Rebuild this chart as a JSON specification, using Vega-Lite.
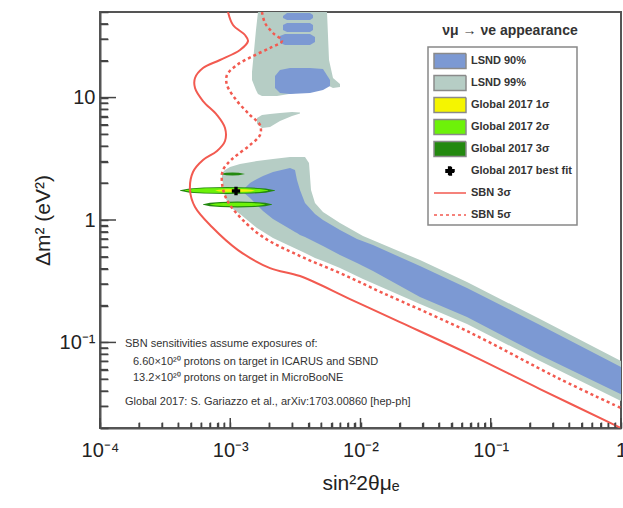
{
  "$schema": "https://vega.github.io/schema/vega-lite/v6.json",
  "width": 521,
  "height": 416,
  "autosize": "none",
  "padding": {"left": 100, "top": 12, "right": 2, "bottom": 80},
  "background": "white",
  "datasets": {
    "regions": [
      {"s": "g_main", "x": 0.0008643, "y": 2.419, "y2": 2.202},
      {"s": "g_main", "x": 0.0009114, "y": 2.56, "y2": 1.54},
      {"s": "g_main", "x": 0.0009956, "y": 2.708, "y2": 1.276},
      {"s": "g_main", "x": 0.001188, "y": 2.866, "y2": 1.118},
      {"s": "g_main", "x": 0.001605, "y": 3.031, "y2": 0.8594},
      {"s": "g_main", "x": 0.002129, "y": 3.149, "y2": 0.712},
      {"s": "g_main", "x": 0.002876, "y": 3.268, "y2": 0.6126},
      {"s": "g_main", "x": 0.003749, "y": 3.268, "y2": 0.537},
      {"s": "g_main", "x": 0.004024, "y": 2.92, "y2": 0.5172},
      {"s": "g_main", "x": 0.004169, "y": 1.757, "y2": 0.5075},
      {"s": "g_main", "x": 0.004474, "y": 1.375, "y2": 0.4887},
      {"s": "g_main", "x": 0.005153, "y": 1.161, "y2": 0.4621},
      {"s": "g_main", "x": 0.00696, "y": 0.944, "y2": 0.405},
      {"s": "g_main", "x": 0.010451, "y": 0.7393, "y2": 0.3293},
      {"s": "g_main", "x": 0.02862, "y": 0.4708, "y2": 0.2057},
      {"s": "g_main", "x": 0.06571, "y": 0.3112, "y2": 0.1412},
      {"s": "g_main", "x": 0.2388, "y": 0.1551, "y2": 0.0704},
      {"s": "g_main", "x": 1.0, "y": 0.0704, "y2": 0.0332},
      {"s": "g_up", "x": 0.001469, "y": 16.18, "y2": 13.92},
      {"s": "g_up", "x": 0.001576, "y": 35.64, "y2": 11.53},
      {"s": "g_up", "x": 0.001633, "y": 50, "y2": 10.69},
      {"s": "g_up", "x": 0.001753, "y": 50, "y2": 10.29},
      {"s": "g_up", "x": 0.0022857, "y": 50, "y2": 10.29},
      {"s": "g_up", "x": 0.003884, "y": 50, "y2": 11.31},
      {"s": "g_up", "x": 0.005153, "y": 50, "y2": 11.97},
      {"s": "g_up", "x": 0.005532, "y": 50, "y2": 12.43},
      {"s": "g_up", "x": 0.005731, "y": 20.27, "y2": 12.43},
      {"s": "g_up", "x": 0.00615, "y": 14.44, "y2": 11.97},
      {"s": "g_up", "x": 0.00696, "y": 12.91, "y2": 12.2},
      {"s": "g_comet", "x": 0.001605, "y": 6.808, "y2": 6.081},
      {"s": "g_comet", "x": 0.001753, "y": 7.203, "y2": 5.641},
      {"s": "g_comet", "x": 0.00202, "y": 7.339, "y2": 5.747},
      {"s": "g_comet", "x": 0.002409, "y": 7.479, "y2": 6.434},
      {"s": "g_comet", "x": 0.002979, "y": 7.621, "y2": 7.069},
      {"s": "g_comet", "x": 0.003431, "y": 7.549, "y2": 7.409},
      {"s": "b_main", "x": 0.0012526, "y": 1.757, "y2": 1.692},
      {"s": "b_main", "x": 0.001418, "y": 2.004, "y2": 1.511},
      {"s": "b_main", "x": 0.001605, "y": 2.161, "y2": 1.325},
      {"s": "b_main", "x": 0.001784, "y": 2.287, "y2": 1.183},
      {"s": "b_main", "x": 0.002129, "y": 2.465, "y2": 1.018},
      {"s": "b_main", "x": 0.002876, "y": 2.658, "y2": 0.8435},
      {"s": "b_main", "x": 0.003141, "y": 2.56, "y2": 0.797},
      {"s": "b_main", "x": 0.003254, "y": 2.121, "y2": 0.782},
      {"s": "b_main", "x": 0.003431, "y": 1.757, "y2": 0.7534},
      {"s": "b_main", "x": 0.003749, "y": 1.375, "y2": 0.726},
      {"s": "b_main", "x": 0.004474, "y": 1.118, "y2": 0.6604},
      {"s": "b_main", "x": 0.005153, "y": 0.999, "y2": 0.6126},
      {"s": "b_main", "x": 0.00696, "y": 0.8276, "y2": 0.5172},
      {"s": "b_main", "x": 0.009401, "y": 0.6988, "y2": 0.445},
      {"s": "b_main", "x": 0.012471, "y": 0.6241, "y2": 0.3827},
      {"s": "b_main", "x": 0.02862, "y": 0.4205, "y2": 0.2347},
      {"s": "b_main", "x": 0.06571, "y": 0.278, "y2": 0.1611},
      {"s": "b_main", "x": 0.2388, "y": 0.1386, "y2": 0.0788},
      {"s": "b_main", "x": 1.0, "y": 0.0629, "y2": 0.0378},
      {"s": "b_up1", "x": 0.002541, "y": 46.38, "y2": 44.67},
      {"s": "b_up1", "x": 0.002727, "y": 49.07, "y2": 43.02},
      {"s": "b_up1", "x": 0.004096, "y": 49.07, "y2": 43.02},
      {"s": "b_up1", "x": 0.004319, "y": 47.27, "y2": 44.67},
      {"s": "b_up2a", "x": 0.002541, "y": 39.16, "y2": 35.64},
      {"s": "b_up2a", "x": 0.002727, "y": 40.65, "y2": 34.33},
      {"s": "b_up2a", "x": 0.004096, "y": 40.65, "y2": 34.33},
      {"s": "b_up2a", "x": 0.004319, "y": 39.16, "y2": 35.64},
      {"s": "b_up2b", "x": 0.002409, "y": 31.84, "y2": 27.91},
      {"s": "b_up2b", "x": 0.002633, "y": 33.06, "y2": 26.88},
      {"s": "b_up2b", "x": 0.004096, "y": 33.06, "y2": 26.88},
      {"s": "b_up2b", "x": 0.004474, "y": 31.25, "y2": 28.44},
      {"s": "b_up3", "x": 0.002206, "y": 15.01, "y2": 11.97},
      {"s": "b_up3", "x": 0.002409, "y": 16.8, "y2": 10.9},
      {"s": "b_up3", "x": 0.002876, "y": 17.43, "y2": 10.69},
      {"s": "b_up3", "x": 0.004096, "y": 17.43, "y2": 10.9},
      {"s": "b_up3", "x": 0.005153, "y": 17.11, "y2": 11.53},
      {"s": "b_up3", "x": 0.005834, "y": 13.92, "y2": 12.43},
      {"s": "e3_mid", "x": 0.0004112, "y": 1.751, "y2": 1.731},
      {"s": "e3_mid", "x": 0.0004866, "y": 1.811, "y2": 1.673},
      {"s": "e3_mid", "x": 0.0006259, "y": 1.843, "y2": 1.644},
      {"s": "e3_mid", "x": 0.0009526, "y": 1.859, "y2": 1.63},
      {"s": "e3_mid", "x": 0.00145, "y": 1.843, "y2": 1.644},
      {"s": "e3_mid", "x": 0.001866, "y": 1.811, "y2": 1.673},
      {"s": "e3_mid", "x": 0.002206, "y": 1.751, "y2": 1.731},
      {"s": "e3_low", "x": 0.0006177, "y": 1.342, "y2": 1.332},
      {"s": "e3_low", "x": 0.0006979, "y": 1.384, "y2": 1.293},
      {"s": "e3_low", "x": 0.0008381, "y": 1.405, "y2": 1.274},
      {"s": "e3_low", "x": 0.001137, "y": 1.416, "y2": 1.264},
      {"s": "e3_low", "x": 0.001542, "y": 1.405, "y2": 1.274},
      {"s": "e3_low", "x": 0.001852, "y": 1.384, "y2": 1.293},
      {"s": "e3_low", "x": 0.002092, "y": 1.342, "y2": 1.332},
      {"s": "e3_up", "x": 0.000834, "y": 2.379, "y2": 2.37},
      {"s": "e3_up", "x": 0.0009318, "y": 2.433, "y2": 2.317},
      {"s": "e3_up", "x": 0.001041, "y": 2.442, "y2": 2.308},
      {"s": "e3_up", "x": 0.0011623, "y": 2.433, "y2": 2.317},
      {"s": "e3_up", "x": 0.001298, "y": 2.379, "y2": 2.37},
      {"s": "e2_mid", "x": 0.0004495, "y": 1.748, "y2": 1.734},
      {"s": "e2_mid", "x": 0.0005204, "y": 1.79, "y2": 1.692},
      {"s": "e2_mid", "x": 0.0006484, "y": 1.813, "y2": 1.671},
      {"s": "e2_mid", "x": 0.0009359, "y": 1.824, "y2": 1.661},
      {"s": "e2_mid", "x": 0.00135, "y": 1.813, "y2": 1.671},
      {"s": "e2_mid", "x": 0.001683, "y": 1.79, "y2": 1.692},
      {"s": "e2_mid", "x": 0.001949, "y": 1.748, "y2": 1.734},
      {"s": "e2_low", "x": 0.0006991, "y": 1.34, "y2": 1.334},
      {"s": "e2_low", "x": 0.0007705, "y": 1.365, "y2": 1.311},
      {"s": "e2_low", "x": 0.0008915, "y": 1.377, "y2": 1.299},
      {"s": "e2_low", "x": 0.001137, "y": 1.384, "y2": 1.293},
      {"s": "e2_low", "x": 0.00145, "y": 1.377, "y2": 1.299},
      {"s": "e2_low", "x": 0.001677, "y": 1.365, "y2": 1.311},
      {"s": "e2_low", "x": 0.001849, "y": 1.34, "y2": 1.334},
      {"s": "e1_mid", "x": 0.0007637, "y": 1.744, "y2": 1.738},
      {"s": "e1_mid", "x": 0.0008198, "y": 1.77, "y2": 1.711},
      {"s": "e1_mid", "x": 0.0009114, "y": 1.784, "y2": 1.698},
      {"s": "e1_mid", "x": 0.001088, "y": 1.79, "y2": 1.692},
      {"s": "e1_mid", "x": 0.001298, "y": 1.784, "y2": 1.698},
      {"s": "e1_mid", "x": 0.0014435, "y": 1.77, "y2": 1.711},
      {"s": "e1_mid", "x": 0.001549, "y": 1.744, "y2": 1.738}
    ],
    "curves": [
      {"c": "sbn3", "i": 0, "x": 0.000961, "y": 50},
      {"c": "sbn3", "i": 1, "x": 0.00105, "y": 39.16},
      {"c": "sbn3", "i": 2, "x": 0.001298, "y": 32.44},
      {"c": "sbn3", "i": 3, "x": 0.001369, "y": 28.98},
      {"c": "sbn3", "i": 4, "x": 0.001188, "y": 24.46},
      {"c": "sbn3", "i": 5, "x": 0.000834, "y": 20.27},
      {"c": "sbn3", "i": 6, "x": 0.0006177, "y": 17.43},
      {"c": "sbn3", "i": 7, "x": 0.0005364, "y": 14.44},
      {"c": "sbn3", "i": 8, "x": 0.0005364, "y": 11.97},
      {"c": "sbn3", "i": 9, "x": 0.0006177, "y": 9.374},
      {"c": "sbn3", "i": 10, "x": 0.0007912, "y": 7.203},
      {"c": "sbn3", "i": 11, "x": 0.0009114, "y": 5.641},
      {"c": "sbn3", "i": 12, "x": 0.0009114, "y": 4.417},
      {"c": "sbn3", "i": 13, "x": 0.0007912, "y": 3.66},
      {"c": "sbn3", "i": 14, "x": 0.0006177, "y": 3.09},
      {"c": "sbn3", "i": 15, "x": 0.0005176, "y": 2.465},
      {"c": "sbn3", "i": 16, "x": 0.0004909, "y": 1.757},
      {"c": "sbn3", "i": 17, "x": 0.0005364, "y": 1.276},
      {"c": "sbn3", "i": 18, "x": 0.0007242, "y": 0.876},
      {"c": "sbn3", "i": 19, "x": 0.001147, "y": 0.568},
      {"c": "sbn3", "i": 20, "x": 0.00202, "y": 0.405},
      {"c": "sbn3", "i": 21, "x": 0.003431, "y": 0.3484},
      {"c": "sbn3", "i": 22, "x": 0.008305, "y": 0.226},
      {"c": "sbn3", "i": 23, "x": 0.0201, "y": 0.1466},
      {"c": "sbn3", "i": 24, "x": 0.0657, "y": 0.0818},
      {"c": "sbn3", "i": 25, "x": 0.2388, "y": 0.0416},
      {"c": "sbn3", "i": 26, "x": 1.0, "y": 0.02},
      {"c": "sbn5", "i": 0, "x": 0.001753, "y": 50},
      {"c": "sbn5", "i": 1, "x": 0.001849, "y": 40.65},
      {"c": "sbn5", "i": 2, "x": 0.002129, "y": 33.69},
      {"c": "sbn5", "i": 3, "x": 0.002497, "y": 28.98},
      {"c": "sbn5", "i": 4, "x": 0.00202, "y": 25.4},
      {"c": "sbn5", "i": 5, "x": 0.001495, "y": 21.85},
      {"c": "sbn5", "i": 6, "x": 0.001127, "y": 18.45},
      {"c": "sbn5", "i": 7, "x": 0.000944, "y": 15.29},
      {"c": "sbn5", "i": 8, "x": 0.000944, "y": 12.66},
      {"c": "sbn5", "i": 9, "x": 0.001127, "y": 9.374},
      {"c": "sbn5", "i": 10, "x": 0.001418, "y": 7.203},
      {"c": "sbn5", "i": 11, "x": 0.001692, "y": 5.968},
      {"c": "sbn5", "i": 12, "x": 0.001692, "y": 4.944},
      {"c": "sbn5", "i": 13, "x": 0.001418, "y": 4.097},
      {"c": "sbn5", "i": 14, "x": 0.001127, "y": 3.394},
      {"c": "sbn5", "i": 15, "x": 0.0009956, "y": 3.031},
      {"c": "sbn5", "i": 16, "x": 0.0008797, "y": 2.56},
      {"c": "sbn5", "i": 17, "x": 0.0008643, "y": 2.004},
      {"c": "sbn5", "i": 18, "x": 0.000944, "y": 1.456},
      {"c": "sbn5", "i": 19, "x": 0.001188, "y": 1.057},
      {"c": "sbn5", "i": 20, "x": 0.001784, "y": 0.726},
      {"c": "sbn5", "i": 21, "x": 0.003431, "y": 0.5075},
      {"c": "sbn5", "i": 22, "x": 0.00696, "y": 0.3686},
      {"c": "sbn5", "i": 23, "x": 0.01488, "y": 0.2531},
      {"c": "sbn5", "i": 24, "x": 0.06571, "y": 0.1238},
      {"c": "sbn5", "i": 25, "x": 0.3401, "y": 0.05019},
      {"c": "sbn5", "i": 26, "x": 1.0, "y": 0.02909}
    ],
    "xticks": [
      {"x": 0.0001, "y": 0.02, "major": true},
      {"x": 0.0002, "y": 0.02, "major": false},
      {"x": 0.0003, "y": 0.02, "major": false},
      {"x": 0.0004, "y": 0.02, "major": false},
      {"x": 0.0005, "y": 0.02, "major": false},
      {"x": 0.0006, "y": 0.02, "major": false},
      {"x": 0.0007, "y": 0.02, "major": false},
      {"x": 0.0008, "y": 0.02, "major": false},
      {"x": 0.0009, "y": 0.02, "major": false},
      {"x": 0.001, "y": 0.02, "major": true},
      {"x": 0.002, "y": 0.02, "major": false},
      {"x": 0.003, "y": 0.02, "major": false},
      {"x": 0.004, "y": 0.02, "major": false},
      {"x": 0.005, "y": 0.02, "major": false},
      {"x": 0.006, "y": 0.02, "major": false},
      {"x": 0.007, "y": 0.02, "major": false},
      {"x": 0.008, "y": 0.02, "major": false},
      {"x": 0.009, "y": 0.02, "major": false},
      {"x": 0.01, "y": 0.02, "major": true},
      {"x": 0.02, "y": 0.02, "major": false},
      {"x": 0.03, "y": 0.02, "major": false},
      {"x": 0.04, "y": 0.02, "major": false},
      {"x": 0.05, "y": 0.02, "major": false},
      {"x": 0.06, "y": 0.02, "major": false},
      {"x": 0.07, "y": 0.02, "major": false},
      {"x": 0.08, "y": 0.02, "major": false},
      {"x": 0.09, "y": 0.02, "major": false},
      {"x": 0.1, "y": 0.02, "major": true},
      {"x": 0.2, "y": 0.02, "major": false},
      {"x": 0.3, "y": 0.02, "major": false},
      {"x": 0.4, "y": 0.02, "major": false},
      {"x": 0.5, "y": 0.02, "major": false},
      {"x": 0.6, "y": 0.02, "major": false},
      {"x": 0.7, "y": 0.02, "major": false},
      {"x": 0.8, "y": 0.02, "major": false},
      {"x": 0.9, "y": 0.02, "major": false},
      {"x": 1, "y": 0.02, "major": true}
    ],
    "yticks": [
      {"x": 0.0001, "y": 0.03, "major": false},
      {"x": 0.0001, "y": 0.04, "major": false},
      {"x": 0.0001, "y": 0.05, "major": false},
      {"x": 0.0001, "y": 0.06, "major": false},
      {"x": 0.0001, "y": 0.07, "major": false},
      {"x": 0.0001, "y": 0.08, "major": false},
      {"x": 0.0001, "y": 0.09, "major": false},
      {"x": 0.0001, "y": 0.1, "major": true},
      {"x": 0.0001, "y": 0.2, "major": false},
      {"x": 0.0001, "y": 0.3, "major": false},
      {"x": 0.0001, "y": 0.4, "major": false},
      {"x": 0.0001, "y": 0.5, "major": false},
      {"x": 0.0001, "y": 0.6, "major": false},
      {"x": 0.0001, "y": 0.7, "major": false},
      {"x": 0.0001, "y": 0.8, "major": false},
      {"x": 0.0001, "y": 0.9, "major": false},
      {"x": 0.0001, "y": 1, "major": true},
      {"x": 0.0001, "y": 2, "major": false},
      {"x": 0.0001, "y": 3, "major": false},
      {"x": 0.0001, "y": 4, "major": false},
      {"x": 0.0001, "y": 5, "major": false},
      {"x": 0.0001, "y": 6, "major": false},
      {"x": 0.0001, "y": 7, "major": false},
      {"x": 0.0001, "y": 8, "major": false},
      {"x": 0.0001, "y": 9, "major": false},
      {"x": 0.0001, "y": 10, "major": true},
      {"x": 0.0001, "y": 20, "major": false},
      {"x": 0.0001, "y": 30, "major": false},
      {"x": 0.0001, "y": 40, "major": false}
    ],
    "notes": [
      {"k": "note", "t": "SBN sensitivities assume exposures of:", "x": 0.0001556, "y": 0.097},
      {"k": "note", "t": "6.60×10²⁰ protons on target in ICARUS and SBND", "x": 0.0001792, "y": 0.0691},
      {"k": "note", "t": "13.2×10²⁰ protons on target in MicroBooNE", "x": 0.0001792, "y": 0.0511},
      {"k": "note", "t": "Global 2017: S. Gariazzo et al., arXiv:1703.00860 [hep-ph]", "x": 0.0001556, "y": 0.03257},
      {"k": "title", "t": "νμ → νe  appearance", "x": 0.1406, "y": 34.99}
    ],
    "legend": [
      {"series": "LSND 90%"},
      {"series": "LSND 99%"},
      {"series": "Global 2017 1σ"},
      {"series": "Global 2017 2σ"},
      {"series": "Global 2017 3σ"},
      {"series": "Global 2017 best fit"},
      {"series": "SBN 3σ"},
      {"series": "SBN 5σ"}
    ]
  },
  "encoding": {
    "x": {
      "field": "x",
      "type": "quantitative",
      "scale": {"type": "log", "domain": [0.0001, 1], "nice": false},
      "axis": {
        "title": "sin²2θμₑ",
        "values": [0.0001, 0.0002, 0.0003, 0.0004, 0.0005, 0.0006, 0.0007, 0.0008, 0.0009, 0.001, 0.002, 0.003, 0.004, 0.005, 0.006, 0.007, 0.008, 0.009, 0.01, 0.02, 0.03, 0.04, 0.05, 0.06, 0.07, 0.08, 0.09, 0.1, 0.2, 0.3, 0.4, 0.5, 0.6, 0.7, 0.8, 0.9, 1],
        "labelExpr": "datum.value == 0.0001 ? '10⁻⁴' : datum.value == 0.001 ? '10⁻³' : datum.value == 0.01 ? '10⁻²' : datum.value == 0.1 ? '10⁻¹' : datum.value == 1 ? '1' : ''",
        "ticks": true,
        "tickSize": -6,
        "tickColor": "#444",
        "tickWidth": 1.5,
        "grid": false,
        "domainColor": "#555",
        "domainWidth": 2,
        "labelFont": "Liberation Sans",
        "labelFontSize": 20,
        "labelColor": "#222",
        "labelFlush": false,
        "labelOverlap": false,
        "labelPadding": 18,
        "titleFont": "Liberation Sans",
        "titleFontSize": 21,
        "titleFontWeight": "normal",
        "titleColor": "#222",
        "titlePadding": 12
      }
    },
    "y": {
      "field": "y",
      "type": "quantitative",
      "scale": {"type": "log", "domain": [0.02, 50], "nice": false},
      "axis": {
        "title": "Δm² (eV²)",
        "values": [0.02, 0.03, 0.04, 0.05, 0.06, 0.07, 0.08, 0.09, 0.1, 0.2, 0.3, 0.4, 0.5, 0.6, 0.7, 0.8, 0.9, 1, 2, 3, 4, 5, 6, 7, 8, 9, 10, 20, 30, 40, 50],
        "labelExpr": "datum.value == 0.1 ? '10⁻¹' : datum.value == 1 ? '1' : datum.value == 10 ? '10' : ''",
        "ticks": true,
        "tickSize": -8,
        "tickColor": "#444",
        "tickWidth": 1.5,
        "grid": false,
        "domainColor": "#555",
        "domainWidth": 2,
        "labelFont": "Liberation Sans",
        "labelFontSize": 20,
        "labelColor": "#222",
        "labelOverlap": false,
        "labelPadding": 13,
        "titleFont": "Liberation Sans",
        "titleFontSize": 21,
        "titleFontWeight": "normal",
        "titleColor": "#222",
        "titlePadding": 6
      }
    }
  },
  "layer": [
    {
      "data": {"name": "regions"},
      "transform": [{"filter": {"field": "s", "oneOf": ["g_main", "g_up", "g_comet"]}}],
      "mark": {"type": "area", "color": "#b6cdc5", "clip": true},
      "encoding": {"y2": {"field": "y2"}, "detail": {"field": "s"}}
    },
    {
      "data": {"name": "regions"},
      "transform": [{"filter": {"field": "s", "oneOf": ["b_main", "b_up1", "b_up2a", "b_up2b", "b_up3"]}}],
      "mark": {"type": "area", "color": "#7c99d3", "clip": true},
      "encoding": {"y2": {"field": "y2"}, "detail": {"field": "s"}}
    },
    {
      "data": {"name": "regions"},
      "transform": [{"filter": {"field": "s", "oneOf": ["e3_mid", "e3_low", "e3_up"]}}],
      "mark": {"type": "area", "color": "#23890f", "clip": true},
      "encoding": {"y2": {"field": "y2"}, "detail": {"field": "s"}}
    },
    {
      "data": {"name": "regions"},
      "transform": [{"filter": {"field": "s", "oneOf": ["e2_mid", "e2_low"]}}],
      "mark": {"type": "area", "color": "#6df209", "clip": true},
      "encoding": {"y2": {"field": "y2"}, "detail": {"field": "s"}}
    },
    {
      "data": {"name": "regions"},
      "transform": [{"filter": {"field": "s", "oneOf": ["e1_mid"]}}],
      "mark": {"type": "area", "color": "#eef20a", "clip": true},
      "encoding": {"y2": {"field": "y2"}, "detail": {"field": "s"}}
    },
    {
      "data": {"name": "curves"},
      "transform": [{"filter": "datum.c == 'sbn3'"}],
      "mark": {"type": "line", "color": "#f25a50", "strokeWidth": 2, "clip": true, "interpolate": "catmull-rom"},
      "encoding": {"order": {"field": "i", "type": "quantitative"}}
    },
    {
      "data": {"name": "curves"},
      "transform": [{"filter": "datum.c == 'sbn5'"}],
      "mark": {"type": "line", "color": "#f25a50", "strokeWidth": 2.5, "strokeDash": [3, 3], "clip": true, "interpolate": "catmull-rom"},
      "encoding": {"order": {"field": "i", "type": "quantitative"}}
    },
    {
      "data": {"values": [{"x": 0.001107, "y": 1.724}]},
      "mark": {"type": "point", "shape": "cross", "filled": true, "color": "black", "size": 70, "opacity": 1}
    },
    {
      "data": {"name": "xticks"},
      "transform": [{"filter": "datum.major"}],
      "mark": {"type": "point", "shape": "M0,0V-1", "size": 400, "filled": false, "strokeWidth": 1.5, "color": "#444", "opacity": 1}
    },
    {
      "data": {"name": "xticks"},
      "transform": [{"filter": "!datum.major"}],
      "mark": {"type": "point", "shape": "M0,0V-1", "size": 100, "filled": false, "strokeWidth": 1.5, "color": "#444", "opacity": 1}
    },
    {
      "data": {"name": "yticks"},
      "transform": [{"filter": "datum.major"}],
      "mark": {"type": "point", "shape": "M0,0H1", "size": 1024, "filled": false, "strokeWidth": 1.5, "color": "#444", "opacity": 1}
    },
    {
      "data": {"name": "yticks"},
      "transform": [{"filter": "!datum.major"}],
      "mark": {"type": "point", "shape": "M0,0H1", "size": 256, "filled": false, "strokeWidth": 1.5, "color": "#444", "opacity": 1}
    },
    {
      "data": {"name": "notes"},
      "transform": [{"filter": "datum.k == 'note'"}],
      "mark": {"type": "text", "align": "left", "baseline": "middle", "fontSize": 11, "color": "#333", "font": "Liberation Sans"},
      "encoding": {"text": {"field": "t"}}
    },
    {
      "data": {"name": "notes"},
      "transform": [{"filter": "datum.k == 'title'"}],
      "mark": {"type": "text", "align": "center", "baseline": "middle", "fontSize": 14, "fontWeight": "bold", "color": "#333", "font": "Liberation Sans"},
      "encoding": {"text": {"field": "t"}}
    },
    {
      "data": {"name": "legend"},
      "transform": [{"filter": "false"}],
      "mark": {"type": "point", "opacity": 1},
      "encoding": {
        "fill": {
          "field": "series", "type": "nominal",
          "scale": {"domain": ["LSND 90%", "LSND 99%", "Global 2017 1σ", "Global 2017 2σ", "Global 2017 3σ", "Global 2017 best fit", "SBN 3σ", "SBN 5σ"],
                    "range": ["#7c99d3", "#b6cdc5", "#f5f500", "#6df209", "#23890f", "black", "transparent", "transparent"]},
          "legend": {"title": null}
        },
        "stroke": {
          "field": "series", "type": "nominal",
          "scale": {"domain": ["LSND 90%", "LSND 99%", "Global 2017 1σ", "Global 2017 2σ", "Global 2017 3σ", "Global 2017 best fit", "SBN 3σ", "SBN 5σ"],
                    "range": ["#8a8a8a", "#8a8a8a", "#8a8a8a", "#8a8a8a", "#8a8a8a", "black", "#f25a50", "#f25a50"]},
          "legend": {"title": null}
        },
        "shape": {
          "field": "series", "type": "nominal",
          "scale": {"domain": ["LSND 90%", "LSND 99%", "Global 2017 1σ", "Global 2017 2σ", "Global 2017 3σ", "Global 2017 best fit", "SBN 3σ", "SBN 5σ"],
                    "range": ["M-2,-0.94H2V0.94H-2Z", "M-2,-0.94H2V0.94H-2Z", "M-2,-0.94H2V0.94H-2Z", "M-2,-0.94H2V0.94H-2Z", "M-2,-0.94H2V0.94H-2Z", "M-0.5,-0.17H-0.17V-0.5H0.17V-0.17H0.5V0.17H0.17V0.5H-0.17V0.17H-0.5Z", "M-2,0H2", "M-2,0H2"]},
          "legend": {"title": null}
        },
        "strokeDash": {
          "field": "series", "type": "nominal",
          "scale": {"domain": ["LSND 90%", "LSND 99%", "Global 2017 1σ", "Global 2017 2σ", "Global 2017 3σ", "Global 2017 best fit", "SBN 3σ", "SBN 5σ"],
                    "range": [[1, 0], [1, 0], [1, 0], [1, 0], [1, 0], [1, 0], [1, 0], [3, 3]]},
          "legend": {"title": null}
        }
      }
    }
  ],
  "config": {
    "font": "Liberation Sans",
    "view": {"stroke": "#555", "strokeWidth": 2},
    "legend": {
      "orient": "none",
      "legendX": 328,
      "legendY": 35,
      "strokeColor": "#888",
      "strokeWidth": 1.5,
      "fillColor": "white",
      "padding": 5,
      "labelFont": "Liberation Sans",
      "labelFontSize": 11,
      "labelFontWeight": "bold",
      "labelColor": "#333",
      "labelLimit": 300,
      "labelExpr": "datum.label + '\u00a0\u00a0\u00a0\u00a0\u00a0'",
      "symbolSize": 256,
      "symbolOffset": 8,
      "symbolStrokeWidth": 1.5,
      "gridAlign": "all",
      "rowPadding": 0,
      "labelOffset": 12
    }
  }
}
